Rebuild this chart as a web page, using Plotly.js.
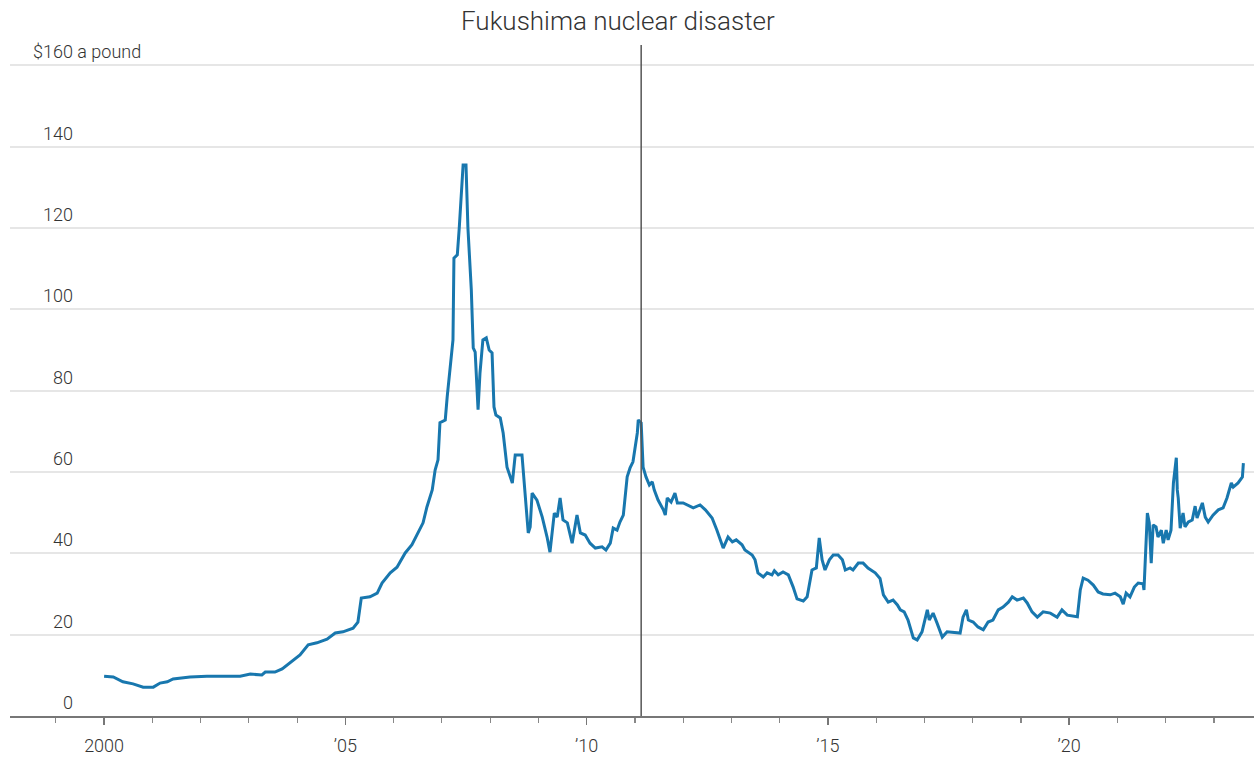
<!DOCTYPE html>
<html>
<head>
<meta charset="utf-8">
<script src="https://cdn.plot.ly/plotly-3.0.1.min.js"></script>
<style>
  html, body { margin: 0; padding: 0; background: #ffffff; }
  #chart { width: 1254px; height: 757px; }
</style>
</head>
<body>
<div id="chart"></div>
<script>
// Uranium spot price, decimal year vs. dollars per pound
const years = [
  2000.00, 2000.19, 2000.39, 2000.60, 2000.81, 2001.02, 2001.16, 2001.31, 2001.43, 2001.78,
  2002.13, 2002.47, 2002.82, 2003.03, 2003.27, 2003.34, 2003.54, 2003.69, 2003.85, 2004.06,
  2004.23, 2004.41, 2004.62, 2004.79, 2004.95, 2005.16, 2005.26, 2005.33, 2005.51, 2005.66,
  2005.76, 2005.93, 2006.07, 2006.24, 2006.38, 2006.51, 2006.61, 2006.69, 2006.80, 2006.86,
  2006.92, 2006.96, 2007.07, 2007.11, 2007.17, 2007.23, 2007.25, 2007.32, 2007.36, 2007.40,
  2007.44, 2007.50, 2007.54, 2007.61, 2007.65, 2007.69, 2007.75, 2007.79, 2007.85, 2007.92,
  2007.98, 2008.04, 2008.08, 2008.12, 2008.21, 2008.27, 2008.35, 2008.46, 2008.52, 2008.66,
  2008.70, 2008.79, 2008.83, 2008.87, 2008.97, 2009.08, 2009.18, 2009.24, 2009.33, 2009.39,
  2009.45, 2009.51, 2009.60, 2009.70, 2009.80, 2009.87, 2009.97, 2010.07, 2010.18, 2010.32,
  2010.40, 2010.49, 2010.55, 2010.63, 2010.69, 2010.76, 2010.84, 2010.90, 2010.96, 2011.05,
  2011.07, 2011.13, 2011.17, 2011.23, 2011.30, 2011.36, 2011.40, 2011.48, 2011.59, 2011.63,
  2011.67, 2011.75, 2011.83, 2011.88, 2012.00, 2012.10, 2012.21, 2012.35, 2012.46, 2012.60,
  2012.70, 2012.83, 2012.93, 2013.02, 2013.10, 2013.22, 2013.28, 2013.43, 2013.49, 2013.55,
  2013.66, 2013.74, 2013.84, 2013.89, 2013.97, 2014.07, 2014.18, 2014.28, 2014.36, 2014.49,
  2014.57, 2014.67, 2014.76, 2014.82, 2014.88, 2014.94, 2015.03, 2015.11, 2015.21, 2015.30,
  2015.36, 2015.46, 2015.52, 2015.63, 2015.73, 2015.83, 2015.98, 2016.08, 2016.15, 2016.25,
  2016.35, 2016.44, 2016.50, 2016.58, 2016.66, 2016.77, 2016.85, 2016.95, 2017.06, 2017.10,
  2017.18, 2017.26, 2017.37, 2017.47, 2017.74, 2017.80, 2017.87, 2017.91, 2018.01, 2018.11,
  2018.22, 2018.32, 2018.42, 2018.53, 2018.63, 2018.74, 2018.82, 2018.92, 2019.05, 2019.13,
  2019.23, 2019.34, 2019.46, 2019.61, 2019.75, 2019.85, 2019.96, 2020.17, 2020.23, 2020.29,
  2020.39, 2020.50, 2020.60, 2020.70, 2020.85, 2020.95, 2021.06, 2021.12, 2021.18, 2021.26,
  2021.35, 2021.43, 2021.53, 2021.55, 2021.62, 2021.66, 2021.70, 2021.74, 2021.80, 2021.84,
  2021.91, 2021.95, 2022.01, 2022.05, 2022.11, 2022.16, 2022.22, 2022.24, 2022.26, 2022.30,
  2022.36, 2022.40, 2022.47, 2022.55, 2022.61, 2022.65, 2022.76, 2022.82, 2022.88, 2022.98,
  2023.09, 2023.19, 2023.27, 2023.36, 2023.40, 2023.50, 2023.59, 2023.61
];
const prices = [
  9.8, 9.6, 8.4, 7.9, 7.1, 7.1, 8.1, 8.4, 9.1, 9.6,
  9.8, 9.8, 9.8, 10.3, 10.1, 10.8, 10.8, 11.6, 13.0, 15.0,
  17.5, 18.0, 18.9, 20.4, 20.7, 21.6, 23.1, 29.0, 29.3, 30.2,
  32.7, 35.2, 36.6, 40.1, 42.1, 45.3, 47.5, 51.4, 55.6, 60.5,
  63.0, 72.1, 72.8, 78.5, 85.1, 92.5, 112.6, 113.4, 120.0, 127.6,
  135.5, 135.5, 120.0, 104.8, 90.5, 89.5, 75.3, 84.4, 92.5, 93.0,
  90.0, 89.3, 76.0, 74.0, 73.3, 69.6, 61.2, 57.3, 64.2, 64.2,
  58.0, 45.0, 46.5, 54.8, 53.1, 48.9, 44.0, 40.3, 49.9, 48.9,
  53.6, 48.2, 47.5, 42.5, 49.4, 45.0, 44.5, 42.5, 41.3, 41.6,
  40.8, 42.5, 46.2, 45.7, 47.7, 49.4, 58.8, 61.0, 62.5, 69.6,
  72.8, 72.1, 61.2, 58.8, 56.8, 57.6, 55.6, 53.1, 50.7, 49.4,
  53.6, 52.6, 54.8, 52.4, 52.4, 51.9, 51.2, 51.9, 50.7, 48.7,
  45.7, 41.3, 44.0, 42.8, 43.3, 42.1, 40.8, 39.6, 38.4, 35.2,
  34.2, 35.2, 34.7, 35.7, 34.7, 35.4, 34.7, 31.7, 28.8, 28.3,
  29.3, 35.9, 36.4, 43.8, 38.4, 35.9, 38.4, 39.6, 39.6, 38.4,
  35.9, 36.4, 35.9, 37.6, 37.6, 36.4, 35.2, 33.8, 29.8, 28.0,
  28.5, 27.3, 26.1, 25.6, 23.6, 19.2, 18.7, 20.7, 26.1, 23.6,
  25.3, 22.9, 19.4, 20.7, 20.4, 24.3, 26.1, 23.6, 23.1, 21.9,
  21.2, 23.1, 23.6, 26.1, 26.8, 28.0, 29.3, 28.5, 29.0, 27.8,
  25.6, 24.3, 25.6, 25.3, 24.3, 26.1, 24.8, 24.4, 31.0, 33.9,
  33.4, 32.2, 30.5, 30.0, 29.8, 30.2, 29.3, 27.5, 30.2, 29.3,
  31.7, 32.7, 32.5, 31.0, 49.9, 47.5, 37.6, 47.0, 46.5, 44.0,
  45.7, 42.5, 45.7, 43.3, 45.7, 57.3, 63.5, 55.6, 53.6, 46.2,
  49.9, 46.5, 47.7, 48.2, 51.6, 48.7, 52.4, 48.9, 47.7, 49.4,
  50.7, 51.2, 53.6, 57.3, 56.3, 57.3, 58.8, 62.2
];

const xTickVals = [2000, 2005, 2010, 2015, 2020];
const xTickText = ["2000", "\u201905", "\u201910", "\u201915", "\u201920"];
const yTickVals = [0, 20, 40, 60, 80, 100, 120, 140, 160];
const yTickText = ["0", "20", "40", "60", "80", "100", "120", "140", "$160 a pound"];

const eventDate = 2011.13;
const eventLabel = "Fukushima nuclear disaster";

const FONT = "Roboto, 'Noto Sans', sans-serif";
const TXT = "#333333";

const plotL = 10, plotW = 1244;
const labelRightPx = 75;

const annotations = yTickVals.map((v, i) => {
  const isTop = i === yTickVals.length - 1;
  return {
    xref: "paper", yref: "y",
    x: isTop ? (31 - plotL) / plotW : (labelRightPx - plotL) / plotW,
    xanchor: isTop ? "left" : "right",
    y: v, yanchor: "bottom", yshift: 1,
    text: yTickText[i], showarrow: false,
    font: { family: FONT, size: 18, color: TXT, weight: 300 }
  };
});
annotations.push({
  xref: "paper", yref: "paper",
  x: (618 - plotL) / plotW, xanchor: "center",
  y: 1 + 24 / 671, yanchor: "middle",
  text: eventLabel, showarrow: false,
  font: { family: FONT, size: 26, color: TXT, weight: 300 }
});

const trace = {
  x: years, y: prices, type: "scatter", mode: "lines",
  line: { color: "#1877ae", width: 3 },
  hoverinfo: "skip"
};

const layout = {
  width: 1254, height: 757,
  margin: { l: 10, r: 0, t: 45, b: 41, pad: 0 },
  paper_bgcolor: "#ffffff", plot_bgcolor: "#ffffff",
  showlegend: false,
  xaxis: {
    range: [1998.05, 2023.83],
    tickvals: xTickVals, ticktext: xTickText,
    ticks: "outside", ticklen: 7, tickwidth: 1.5, tickcolor: "#777777",
    ticklabelstandoff: 6,
    showline: true, linecolor: "#777777", linewidth: 1.5,
    showgrid: false, zeroline: false,
    tickfont: { family: FONT, size: 18, color: TXT, weight: 300 },
    minor: { dtick: 1, tick0: 2000, ticks: "outside", ticklen: 5, tickwidth: 1.2, tickcolor: "#888888", showgrid: false },
    fixedrange: true
  },
  yaxis: {
    range: [0, 165],
    tickvals: yTickVals.slice(1),
    showticklabels: false,
    ticks: "",
    showgrid: true, gridcolor: "#e6e6e6", gridwidth: 2,
    zeroline: false, showline: false,
    fixedrange: true
  },
  shapes: [{
    type: "line", xref: "x", yref: "paper",
    x0: eventDate, x1: eventDate, y0: 0, y1: 1,
    line: { color: "#555555", width: 1.5 }
  }],
  annotations: annotations
};

Plotly.newPlot("chart", [trace], layout, { displayModeBar: false, staticPlot: true });
</script>
</body>
</html>
